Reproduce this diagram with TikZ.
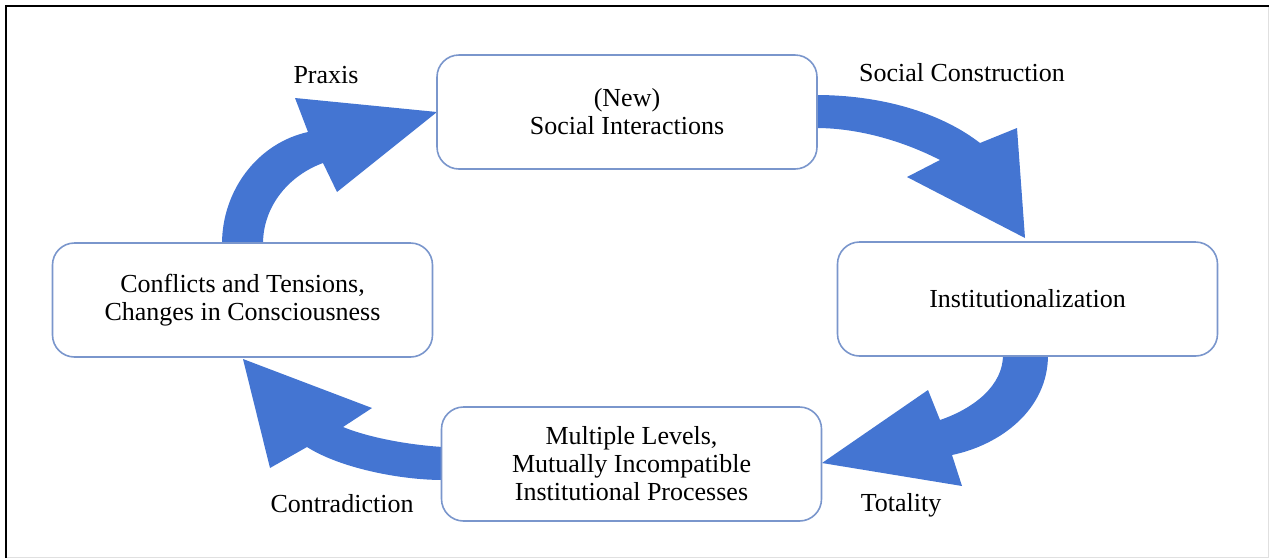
\documentclass[tikz,border=0pt]{standalone}
\usepackage{fontspec}
\setmainfont{Liberation Serif}
\definecolor{arrowblue}{RGB}{68,117,210}
\definecolor{boxline}{RGB}{122,150,204}
\begin{document}
\begin{tikzpicture}[x=1pt,y=-1pt,
  stage/.style={draw=boxline, line width=1.6pt, rounded corners=22pt, fill=white,
    minimum width=380pt, minimum height=114pt, align=center, inner sep=0pt,
    font=\fontsize{26}{28}\selectfont},
  cue/.style={inner sep=0pt, font=\fontsize{26}{28}\selectfont},
  flow/.style={fill=arrowblue, draw=none}]
\useasboundingbox (0,0) rectangle (1269,558);

% frame
\draw[line width=2.5pt] (6,558) -- (6,6) -- (1269,6);
\draw[black!12, line width=1pt] (1268,7) -- (1268,557) -- (7,557);

% curved block arrows of the cycle
\fill[flow] (222,244) .. controls (222,190) and (258,143) .. (308,132)
  -- (295,98) -- (437,112) -- (337,192) -- (323,163)
  .. controls (290,175) and (263,205) .. (263,244) -- cycle;
\fill[flow] (816,95) .. controls (880,95) and (940,112) .. (980,143)
  -- (1017,128) -- (1025,238) -- (907,177) -- (940,160)
  .. controls (905,142) and (860,128) .. (816,128) -- cycle;
\fill[flow] (1048,355) .. controls (1048,410) and (1000,445) .. (952,455)
  -- (962,486) -- (822,463) -- (928,390) -- (940,420)
  .. controls (975,408) and (1003,385) .. (1003,355) -- cycle;
\fill[flow] (443,447) .. controls (410,445) and (370,438) .. (343,427)
  -- (372,408) -- (243,359) -- (270,468) -- (307,447)
  .. controls (340,468) and (400,480) .. (443,480) -- cycle;

% stages
\node[stage] (inter) at (627,112) {(New)\\Social Interactions};
\node[stage] (inst) at (1027.5,299) {Institutionalization};
\node[stage] (multi) at (631.5,464) {Multiple Levels,\\Mutually Incompatible\\Institutional Processes};
\node[stage] (confl) at (242.5,300) {Conflicts and Tensions,\\Changes in Consciousness};

% arrow captions
\node[cue] (praxis) at (326,75) {Praxis};
\node[cue] (socon) at (962,73) {Social Construction};
\node[cue] (total) at (901,505) {Totality};
\node[cue] (contra) at (342,504) {Contradiction};
\end{tikzpicture}
\end{document}
